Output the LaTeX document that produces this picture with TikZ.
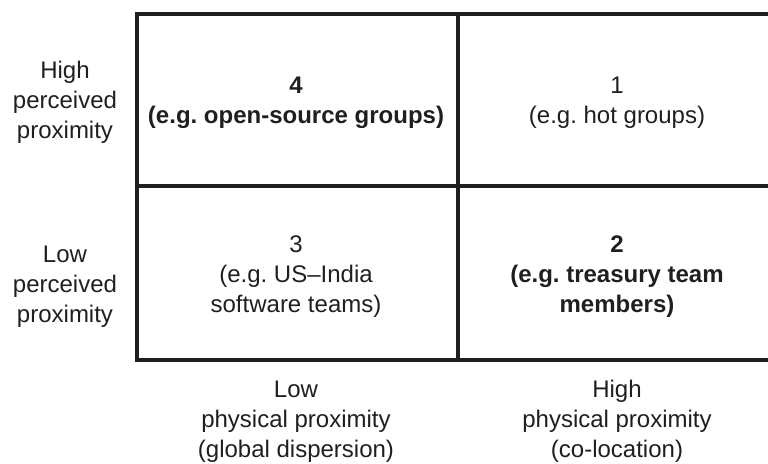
\documentclass[tikz,border=0pt]{standalone}
\usepackage{fontspec}
\setmainfont{Liberation Sans}
\frenchspacing
\begin{document}
\begin{tikzpicture}[x=1pt,y=-1pt,
  lbl/.style={align=center,font=\fontsize{24}{30}\selectfont,text=black!88,inner sep=0pt,anchor=base},
  blbl/.style={lbl,font=\fontsize{24}{30}\selectfont\bfseries},
  frame/.style={line width=4pt,draw=black!88}]
\useasboundingbox (0,0) rectangle (768,463);
% grid of four cells
\draw[frame] (137,14) rectangle (779,360);
\draw[frame] (458,14) -- (458,360);
\draw[frame] (137,186) -- (779,186);
% cell contents (node base = baseline of the last line)
\node[blbl] (c4) at (296,123) {4\\(e.g. open-source groups)};
\node[lbl] (c1) at (617,123) {1\\(e.g. hot groups)};
\node[lbl] (c3) at (296,312) {3\\(e.g. US–India\\software teams)};
\node[blbl] (c2) at (617,312) {2\\(e.g. treasury team\\members)};
% axis labels
\node[lbl] (hp) at (65,138) {High\\perceived\\proximity};
\node[lbl] (lp) at (65,322) {Low\\perceived\\proximity};
\node[lbl] (lx) at (296,457) {Low\\physical proximity\\(global dispersion)};
\node[lbl] (hx) at (617,457) {High\\physical proximity\\(co-location)};
\end{tikzpicture}
\end{document}
